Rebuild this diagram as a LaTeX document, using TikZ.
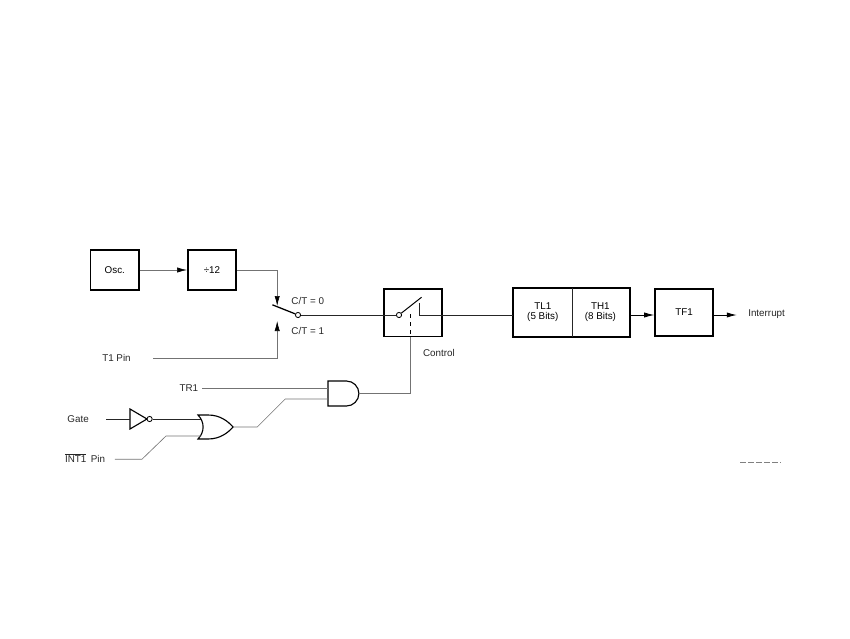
\documentclass[tikz,border=0pt]{standalone}
\usepackage{fontspec}
\setmainfont{Liberation Sans}
\usetikzlibrary{arrows.meta}
\tikzset{
	blockbox/.style={draw=black, line width=1.1pt, minimum width=1.45cm, minimum height=1.18cm, inner sep=0pt, font=\fontsize{7}{8}\selectfont, align=center},
	lbl/.style={inner sep=0pt, font=\fontsize{7}{8}\selectfont, text=black!85},
	thinwire/.style={draw=black!55, line width=0.45pt},
	wire/.style={draw=black!85, line width=0.5pt},
	tip/.style={-{Latex[black,length=2.5mm,width=1.3mm]}},
	gateline/.style={draw=black, line width=0.8pt},
	contact/.style={circle, draw=black, line width=0.6pt, fill=white, inner sep=0pt, minimum size=1.3mm}
}

\begin{document}
\begin{tikzpicture}
		\useasboundingbox (0, 0) rectangle (21.25, 15.95);

		%%%%% BLOCKS %%%%%
		\node[blockbox, minimum height=1cm, minimum width=1.21cm] (osc) at (2.87, 9.2) {Osc.};
		\node[blockbox, minimum height=1cm, minimum width=1.21cm] (div) at (5.3, 9.2) {÷12};
		\node[blockbox] (ctrl) at (10.325, 8.13) {};
		\node[blockbox, draw=none] (tlone) at (13.57, 8.14) {TL1\\[-1pt](5 Bits)};
		\node[blockbox, draw=none] (thone) at (15.01, 8.14) {TH1\\[-1pt](8 Bits)};
		\node[blockbox] (tfone) at (17.1, 8.14) {\raisebox{-1.5pt}{TF1}};
		\draw[line width=1.1pt] (tlone.north west) rectangle (thone.south east);
		\draw[wire] (tlone.north east) -- (tlone.south east);

		%%%%% LABELS %%%%%
		\node[lbl, anchor=west] (tpin) at (2.55, 7.0) {T1 Pin};
		\node[lbl, anchor=east] (trone) at (4.96, 6.25) {TR1};
		\node[lbl, anchor=west] (gate) at (1.68, 5.48) {Gate};
		\node[lbl, anchor=west] (intpin) at (1.62, 4.5) {$\overline{\mbox{INT1}}$\, Pin};
		\node[lbl, anchor=west] (czero) at (7.28, 8.43) {C/T = 0};
		\node[lbl, anchor=west] (cone) at (7.28, 7.68) {C/T = 1};
		\node[lbl, anchor=west] (control) at (10.57, 7.12) {Control};
		\node[lbl, anchor=west] (interrupt) at (18.7, 8.1) {Interrupt};

		%%%%% GATES %%%%%
		% inverter
		\draw[gateline] (3.25, 5.725) -- (3.25, 5.225) -- (3.675, 5.475) -- cycle;
		\coordinate (invin) at (3.25, 5.475);
		\node[contact] (invout) at (3.74, 5.475) {};
		% or gate
		\draw[gateline] (4.95, 5.575) -- (5.2, 5.575) .. controls (5.5, 5.575) and (5.7, 5.42) .. (5.825, 5.275)
			.. controls (5.7, 5.13) and (5.5, 4.975) .. (5.2, 4.975) -- (4.95, 4.975)
			.. controls (5.12, 5.15) and (5.12, 5.4) .. cycle;
		\coordinate (orinone) at (5.03, 5.475);
		\coordinate (orintwo) at (5.03, 5.05);
		\coordinate (orout) at (5.825, 5.275);
		% and gate
		\draw[gateline] (8.2, 6.425) -- (8.66, 6.425) arc (90:-90:0.3125) -- (8.2, 5.8) -- cycle;
		\coordinate (andinone) at (8.2, 6.25);
		\coordinate (andintwo) at (8.2, 5.975);
		\coordinate (andout) at (8.975, 6.1125);

		%%%%% SWITCHES %%%%%
		\node[contact] (swout) at (7.45, 8.075) {};
		\coordinate (swarm) at (6.81, 8.33);
		\node[contact] (ctrlpole) at (9.975, 8.075) {};
		\coordinate (ctrlarm) at (10.54, 8.52);
		\coordinate (ctrlback) at (10.49, 8.38);
		\coordinate (ctrlline) at (10.49, 8.075);
		\coordinate (ctrldash) at (10.25, 8.1);
		\coordinate (ctrldrop) at (10.25, 7.53);

		%%%%% WIRES %%%%%
		\draw[thinwire, tip] (osc.east) -- (div.west);
		\coordinate (downtip) at (6.93, 8.3);
		\coordinate (uptip) at (6.93, 7.925);
		\coordinate (tpinstart) at (3.83, 7.0);
		\draw[thinwire, tip] (div.east) -| (downtip);
		\draw[thinwire, tip] (tpinstart) -| (uptip);

		\draw[black, line width=0.9pt] (swarm) -- (swout);
		\draw[wire] (swout) -- (ctrlpole);
		\draw[black, line width=0.7pt] (ctrlpole) -- (ctrlarm);
		\draw[wire] (ctrlback) -- (ctrlline) -- (tlone.west |- ctrlline);
		\draw[black, line width=0.6pt, dash pattern=on 1mm off 1mm] (ctrldash) -- (ctrldrop);
		\draw[thinwire] (ctrldrop) |- (andout);

		\coordinate (tronestart) at (5.05, 6.25);
		\draw[thinwire] (tronestart) -- (andinone);
		\coordinate (andknee) at (7.13, 5.975);
		\coordinate (orknee) at (6.43, 5.275);
		\draw[thinwire] (orout) -- (orknee) -- (andknee) -- (andintwo);

		\coordinate (gatestart) at (2.65, 5.475);
		\draw[wire] (gatestart) -- (invin);
		\draw[wire] (invout) -- (orinone);
		\coordinate (orinknee) at (4.15, 5.05);
		\coordinate (intknee) at (3.55, 4.47);
		\coordinate (intstart) at (2.87, 4.47);
		\draw[thinwire] (orintwo) -- (orinknee) -- (intknee) -- (intstart);

		\coordinate (intrtip) at (18.42, 8.075);
		\draw[black, line width=0.6pt, tip] (thone.east |- ctrlline) -- (tfone.west |- ctrlline);
		\draw[black, line width=0.6pt, tip] (tfone.east |- ctrlline) -- (intrtip);

		% leftover mark in the lower right corner
		\draw[black!50, line width=0.5pt, dash pattern=on 1.5mm off 0.5mm] (18.5, 4.38) -- (19.53, 4.38);

		%%%%% END %%%%%
	\end{tikzpicture}
\end{document}
